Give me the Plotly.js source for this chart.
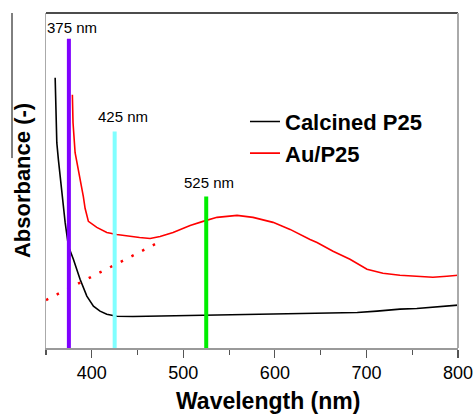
<!DOCTYPE html>
<html>
<head>
<meta charset="utf-8">
<script src="https://cdn.plot.ly/plotly-3.0.1.min.js"></script>
<style>
  html, body { margin: 0; padding: 0; background: #fff; }
  #chart { width: 476px; height: 415px; }
</style>
</head>
<body>
<div id="chart"></div>
<script>
// UV-vis absorbance spectra (arbitrary units)
const calcinedWl = [360, 361, 361.8, 363.5, 365.4, 367.3, 368.3, 370.9, 374.5, 379.9, 387.2, 394.6,
  401.8, 409, 416.4, 427.3, 445, 465, 485.5, 510, 535, 557.6, 590, 627.5, 663.5, 690, 711.5,
  736.6, 755, 772.6, 790, 800];
const calcinedAbs = [0.807, 0.711, 0.613, 0.563, 0.512, 0.473, 0.443, 0.375, 0.304, 0.265, 0.205, 0.155,
  0.125, 0.110, 0.101, 0.095, 0.094, 0.095, 0.095, 0.096, 0.097, 0.098, 0.099, 0.101, 0.104, 0.106, 0.110,
  0.116, 0.118, 0.122, 0.125, 0.128];

const auWl = [378.8, 379.5, 381.8, 385.4, 389.1, 390.8, 392.7, 396.3, 405.5, 416.4, 427.3, 441.8,
  452.2, 463.7, 474.6, 488.8, 507.4, 521.5, 536.8, 558.7, 576.1, 598, 616.6, 638.4, 646, 663.5,
  682, 700.6, 718, 736.6, 755.2, 772.6, 787.9, 800];
const auAbs = [0.756, 0.673, 0.583, 0.533, 0.473, 0.452, 0.417, 0.378, 0.360, 0.345, 0.339, 0.333,
  0.330, 0.327, 0.333, 0.345, 0.366, 0.378, 0.390, 0.396, 0.390, 0.375, 0.354, 0.324, 0.315, 0.289,
  0.265, 0.235, 0.223, 0.217, 0.214, 0.211, 0.214, 0.217];

// tangent extrapolation of the plasmon band edge
const tangentWl = [350, 477];
const tangentAbs = [0.143, 0.321];

// marker wavelengths and heights of the vertical bars
const markerWl = [375, 425, 525];
const markerTop = [0.923, 0.646, 0.452];
const markerColors = ['#7f00ff', '#80ffff', '#00ee00'];
const markerLabels = ['375 nm', '425 nm', '525 nm'];
const labelWl = [378, 434, 528.5];
const labelAbs = [0.958, 0.690, 0.494];

const boldFont = { family: 'Liberation Sans, Arial', weight: 'bold', color: '#000' };

const traces = [
  { x: calcinedWl, y: calcinedAbs, name: 'Calcined P25', mode: 'lines',
    line: { color: '#000000', width: 1.6 } },
  { x: auWl, y: auAbs, name: 'Au/P25', mode: 'lines',
    line: { color: '#ff0000', width: 1.6 } },
  { x: tangentWl, y: tangentAbs, mode: 'lines', showlegend: false, hoverinfo: 'skip',
    line: { color: '#ff0000', width: 2.5, dash: '2.5px,9.5px' } }
];
markerWl.forEach((wl, i) => {
  traces.push({ x: [wl, wl], y: [0, markerTop[i]], mode: 'lines', showlegend: false,
    line: { color: markerColors[i], width: 4 } });
});

const annotations = markerLabels.map((t, i) => ({
  x: labelWl[i], y: labelAbs[i], xref: 'x', yref: 'y', text: t, showarrow: false,
  font: { family: 'Liberation Sans Narrow, Arial Narrow, Liberation Sans, Arial', size: 15, color: '#000' }
}));
// x-axis caption, set slightly right of the plot centre
annotations.push({
  x: 0.539, y: -0.157, xref: 'paper', yref: 'paper', xanchor: 'center', yanchor: 'middle',
  text: 'Wavelength (nm)', showarrow: false, font: Object.assign({ size: 23 }, boldFont)
});

const layout = {
  width: 476, height: 415,
  margin: { l: 46, r: 18, t: 13, b: 67 },
  paper_bgcolor: '#fff', plot_bgcolor: '#fff',
  showlegend: true,
  legend: { x: 0.483, y: 0.738, xanchor: 'left', yanchor: 'top', bgcolor: 'rgba(0,0,0,0)',
    font: Object.assign({ size: 22 }, boldFont) },
  xaxis: {
    range: [350, 800], tick0: 0, dtick: 100, showgrid: false, zeroline: false,
    showline: true, linecolor: '#9a9a9a', linewidth: 1.5,
    ticks: 'outside', ticklen: 8, tickwidth: 1.2, tickcolor: '#555',
    minor: { dtick: 50, ticks: 'outside', ticklen: 5, tickwidth: 1.2, tickcolor: '#555' },
    tickfont: { family: 'Liberation Sans, Arial', size: 18, color: '#000' }
  },
  yaxis: {
    range: [0, 1], showgrid: false, zeroline: false, showticklabels: false, ticks: '',
    showline: true, linecolor: '#aaaaaa', linewidth: 1,
    title: { text: 'Absorbance (-)', standoff: 8, font: Object.assign({ size: 22 }, boldFont) }
  },
  shapes: [
    { type: 'line', xref: 'paper', yref: 'paper', x0: 0, x1: 1, y0: 1, y1: 1,
      line: { color: '#111', width: 1.5 } },
    { type: 'line', xref: 'paper', yref: 'paper', x0: 1, x1: 1, y0: 0, y1: 1,
      line: { color: '#aaaaaa', width: 2 } },
    { type: 'line', xref: 'paper', yref: 'paper', x0: -0.0825, x1: -0.0825, y0: 1, y1: 0.567,
      line: { color: '#000', width: 1 } }
  ],
  annotations: annotations
};

Plotly.newPlot('chart', traces, layout, { displayModeBar: false, staticPlot: true });
</script>
</body>
</html>
